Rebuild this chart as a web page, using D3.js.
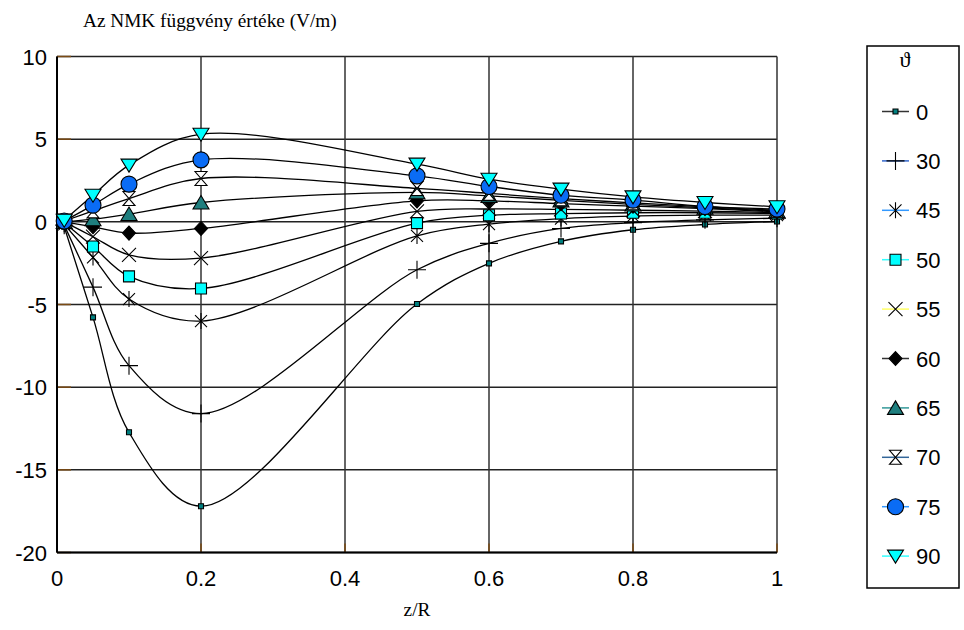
<!DOCTYPE html>
<html>
<head>
<meta charset="utf-8">
<script src="https://cdn.jsdelivr.net/npm/d3@7"></script>
<style>
  body { margin: 0; background: #fff; }
  text { font-family: Arial, "Liberation Sans", sans-serif; }
  .serif { font-family: "Times New Roman", "Liberation Serif", serif; }
</style>
</head>
<body>
<div id="chart"></div>
<script>
// z/R positions of the measured points
var zValues = [0.01, 0.05, 0.1, 0.2, 0.5, 0.6, 0.7, 0.8, 0.9, 1.0]

// one array per theta angle (V/m)
var theta0 = [-0.3, -5.78, -12.73, -17.2, -4.97, -2.51, -1.18, -0.48, -0.16, 0.02]
var theta30 = [-0.2, -3.95, -8.7, -11.6, -2.9, -1.3, -0.4, -0.05, 0.12, 0.22]
var theta45 = [-0.15, -2.15, -4.67, -6.0, -0.85, -0.14, 0.2, 0.35, 0.4, 0.4]
var theta50 = [-0.05, -1.49, -3.3, -4.03, -0.08, 0.4, 0.5, 0.55, 0.55, 0.5]
var theta55 = [0, -0.9, -2.0, -2.19, 0.63, 0.78, 0.75, 0.7, 0.65, 0.55]
var theta60 = [0, -0.3, -0.68, -0.4, 1.27, 1.27, 1.1, 0.95, 0.8, 0.6]
var theta65 = [0, 0.16, 0.47, 1.17, 1.78, 1.57, 1.3, 1.05, 0.85, 0.65]
var theta70 = [0.05, 0.66, 1.41, 2.62, 2.02, 1.72, 1.4, 1.15, 0.9, 0.7]
var theta75 = [0.05, 1.01, 2.28, 3.75, 2.78, 2.14, 1.61, 1.31, 0.93, 0.77]
var theta90 = [0.1, 1.61, 3.43, 5.3, 3.49, 2.58, 1.98, 1.51, 1.17, 0.91]

var thetaLabels = ['0', '30', '45', '50', '55', '60', '65', '70', '75', '90']
var seriesValues = [theta0, theta30, theta45, theta50, theta55, theta60, theta65, theta70, theta75, theta90]

var xTicks = [0, 0.2, 0.4, 0.6, 0.8, 1]
var yTicks = [-20, -15, -10, -5, 0, 5, 10]

// marker look per series
var markerStyle = [
  { shape: 'smallSquare', fill: '#008080', legendLine: '#333333' },
  { shape: 'plus', fill: 'none', legendLine: '#3366cc' },
  { shape: 'asterisk', fill: 'none', legendLine: '#3399ff' },
  { shape: 'square', fill: '#00ffff', legendLine: '#33ffff' },
  { shape: 'cross', fill: 'none', legendLine: '#ffff66' },
  { shape: 'diamond', fill: '#000000', legendLine: '#333333' },
  { shape: 'triangle', fill: '#1f7f7f', legendLine: '#339999' },
  { shape: 'hourglass', fill: '#ffffff', legendLine: '#336699' },
  { shape: 'circle', fill: '#0a6cf5', legendLine: '#3399ff' },
  { shape: 'triangleDown', fill: '#00ffff', legendLine: '#33ffff' }
]

var width = 964
var height = 630

var svg = d3
  .select('#chart')
  .append('svg')
  .attr('width', width)
  .attr('height', height)

var xPositionScale = d3.scaleLinear().domain([0, 1]).range([57, 777])
var yPositionScale = d3.scaleLinear().domain([-20, 10]).range([552.5, 56.5])

function markerPath(shape) {
  switch (shape) {
    case 'smallSquare': return 'M-2.5,-2.5H2.5V2.5H-2.5Z'
    case 'plus': return 'M-9,0H9M0,-9V9'
    case 'asterisk': return 'M0,-8V8M-6,-6L6,6M-6,6L6,-6'
    case 'square': return 'M-5.5,-5.5H5.5V5.5H-5.5Z'
    case 'cross': return 'M-7,-7L7,7M-7,7L7,-7'
    case 'diamond': return 'M0,-7L6.5,0L0,7L-6.5,0Z'
    case 'triangle': return 'M0,-7L8,6.5H-8Z'
    case 'hourglass': return 'M-6,-7H6L-6,7H6Z'
    case 'circle': return 'M8,0A8,8 0 1,1 -8,0A8,8 0 1,1 8,0Z'
    case 'triangleDown': return 'M-8,-6H8L0,7Z'
  }
}

// grid
svg
  .append('g')
  .selectAll('line')
  .data(yTicks)
  .enter()
  .append('line')
  .attr('x1', xPositionScale(0))
  .attr('x2', xPositionScale(1))
  .attr('y1', d => yPositionScale(d))
  .attr('y2', d => yPositionScale(d))
  .attr('stroke', '#222')
  .attr('stroke-width', 1.5)

svg
  .append('g')
  .selectAll('line')
  .data(xTicks)
  .enter()
  .append('line')
  .attr('x1', d => xPositionScale(d))
  .attr('x2', d => xPositionScale(d))
  .attr('y1', yPositionScale(10))
  .attr('y2', yPositionScale(-20))
  .attr('stroke', '#333')
  .attr('stroke-width', 1.5)

// inner brown tick marks
svg
  .append('g')
  .selectAll('line')
  .data(yTicks)
  .enter()
  .append('line')
  .attr('x1', xPositionScale(0))
  .attr('x2', xPositionScale(0) + 14)
  .attr('y1', d => yPositionScale(d))
  .attr('y2', d => yPositionScale(d))
  .attr('stroke', '#7a4a14')
  .attr('stroke-width', 1.5)

svg
  .append('g')
  .selectAll('line')
  .data(xTicks)
  .enter()
  .append('line')
  .attr('x1', d => xPositionScale(d))
  .attr('x2', d => xPositionScale(d))
  .attr('y1', yPositionScale(-20))
  .attr('y2', yPositionScale(-20) - 9)
  .attr('stroke', '#7a4a14')
  .attr('stroke-width', 1.5)

// axis lines
svg
  .append('line')
  .attr('x1', xPositionScale(0))
  .attr('x2', xPositionScale(0))
  .attr('y1', yPositionScale(10))
  .attr('y2', yPositionScale(-20))
  .attr('stroke', '#000')
  .attr('stroke-width', 2)

svg
  .append('line')
  .attr('x1', xPositionScale(0))
  .attr('x2', xPositionScale(1))
  .attr('y1', yPositionScale(-20))
  .attr('y2', yPositionScale(-20))
  .attr('stroke', '#000')
  .attr('stroke-width', 2)

// tick labels
svg
  .append('g')
  .selectAll('text')
  .data(yTicks)
  .enter()
  .append('text')
  .attr('x', 47)
  .attr('y', d => yPositionScale(d) + 8)
  .attr('text-anchor', 'end')
  .attr('font-size', 22)
  .text(d => d)

svg
  .append('g')
  .selectAll('text')
  .data(xTicks)
  .enter()
  .append('text')
  .attr('x', d => xPositionScale(d))
  .attr('y', 586)
  .attr('text-anchor', 'middle')
  .attr('font-size', 22)
  .text(d => d)

// titles
svg
  .append('text')
  .attr('class', 'serif')
  .attr('x', 83)
  .attr('y', 27)
  .attr('font-size', 19.3)
  .text('Az NMK függvény értéke (V/m)')

svg
  .append('text')
  .attr('class', 'serif')
  .attr('x', 417)
  .attr('y', 616)
  .attr('text-anchor', 'middle')
  .attr('font-size', 19.3)
  .text('z/R')

// smoothed lines
var line = d3
  .line()
  .x((d, i) => xPositionScale(zValues[i]))
  .y(d => yPositionScale(d))
  .curve(d3.curveCatmullRom.alpha(0.5))

svg
  .append('g')
  .selectAll('path')
  .data(seriesValues)
  .enter()
  .append('path')
  .attr('d', d => line(d))
  .attr('fill', 'none')
  .attr('stroke', '#000')
  .attr('stroke-width', 1.3)

// markers
seriesValues.forEach((values, k) => {
  var style = markerStyle[k]
  svg
    .append('g')
    .selectAll('path')
    .data(values)
    .enter()
    .append('path')
    .attr('transform', (d, i) => 'translate(' + xPositionScale(zValues[i]) + ',' + yPositionScale(d) + ')')
    .attr('d', markerPath(style.shape))
    .attr('fill', style.fill)
    .attr('stroke', '#000')
    .attr('stroke-width', 1.1)
})

// legend
var legend = svg.append('g')

legend
  .append('rect')
  .attr('x', 867)
  .attr('y', 46)
  .attr('width', 92)
  .attr('height', 542)
  .attr('fill', '#fff')
  .attr('stroke', '#000')
  .attr('stroke-width', 1.5)

legend
  .append('text')
  .attr('class', 'serif')
  .attr('x', 905)
  .attr('y', 67)
  .attr('text-anchor', 'middle')
  .attr('font-size', 22)
  .text('ϑ')

var legendItems = legend
  .selectAll('.item')
  .data(thetaLabels)
  .enter()
  .append('g')
  .attr('class', 'item')
  .attr('transform', (d, i) => 'translate(0,' + (111.5 + i * 49.4) + ')')

legendItems
  .append('line')
  .attr('x1', 882)
  .attr('x2', 909)
  .attr('stroke', (d, i) => markerStyle[i].legendLine)
  .attr('stroke-width', 1.5)

legendItems
  .append('path')
  .attr('transform', 'translate(895.5,0)')
  .attr('d', (d, i) => markerPath(markerStyle[i].shape))
  .attr('fill', (d, i) => markerStyle[i].fill)
  .attr('stroke', '#000')
  .attr('stroke-width', 1.1)

legendItems
  .append('text')
  .attr('x', 916)
  .attr('y', 8)
  .attr('font-size', 22)
  .text(d => d)
</script>
</body>
</html>
